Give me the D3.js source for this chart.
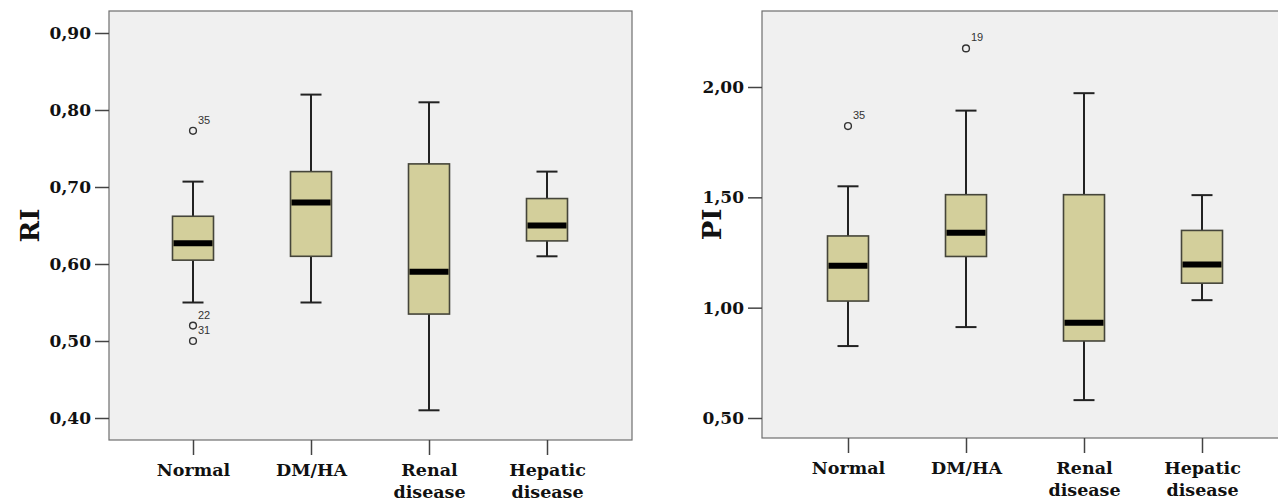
<!DOCTYPE html>
<html>
<head>
<meta charset="utf-8">
<script src="https://cdn.jsdelivr.net/npm/d3@7"></script>
<style>
  body { margin: 0; background: #fff; }
</style>
</head>
<body>
<div id="main"></div>
<script>
// categories and values
var categories = ["Normal", "DM/HA", "Renal disease", "Hepatic disease"];

var riTicks  = [0.40, 0.50, 0.60, 0.70, 0.80, 0.90];
var riMin    = [0.550, 0.550, 0.410, 0.610];
var riQ1     = [0.605, 0.610, 0.535, 0.630];
var riMedian = [0.627, 0.680, 0.590, 0.650];
var riQ3     = [0.662, 0.720, 0.730, 0.685];
var riMax    = [0.707, 0.820, 0.810, 0.720];
var riOutliers = [
  { cat: "Normal", value: 0.773, id: "35" },
  { cat: "Normal", value: 0.520, id: "22" },
  { cat: "Normal", value: 0.500, id: "31" }
];

var piTicks  = [0.50, 1.00, 1.50, 2.00];
var piMin    = [0.826, 0.912, 0.581, 1.034];
var piQ1     = [1.030, 1.232, 0.849, 1.111];
var piMedian = [1.190, 1.340, 0.932, 1.196];
var piQ3     = [1.325, 1.512, 1.512, 1.350];
var piMax    = [1.550, 1.893, 1.972, 1.510];
var piOutliers = [
  { cat: "Normal", value: 1.823, id: "35" },
  { cat: "DM/HA", value: 2.175, id: "19" }
];

var svg = d3.select("#main").append("svg")
    .attr("width", 1278)
    .attr("height", 501);

var serif = "'DejaVu Serif', serif";
var fmt = function(d) { return d3.format(".2f")(d).replace(".", ","); };

function drawPanel(p) {
  var g = svg.append("g");

  // plot background + frame
  g.append("rect")
      .attr("x", p.left).attr("y", p.top)
      .attr("width", p.right - p.left).attr("height", p.bottom - p.top)
      .attr("fill", "#f0f0f0")
      .attr("stroke", "#6e6e6e")
      .attr("stroke-width", 1.2);

  var x = d3.scalePoint().domain(categories).range(p.xRange);
  var y = d3.scaleLinear().domain(p.yDomain).range(p.yRange);

  // y axis
  var yAxis = g.append("g")
      .attr("transform", "translate(" + p.left + ",0)")
      .call(d3.axisLeft(y).tickValues(p.ticks).tickFormat(fmt).tickSize(14).tickPadding(4));
  yAxis.select(".domain").remove();
  yAxis.selectAll(".tick line").attr("stroke", "#444").attr("stroke-width", 1.5);
  yAxis.selectAll(".tick text")
      .style("font-family", serif).style("font-weight", "bold")
      .style("font-size", "17px").attr("fill", "#111");

  // x axis
  var xAxis = g.append("g")
      .attr("transform", "translate(0," + p.bottom + ")")
      .call(d3.axisBottom(x).tickSize(15).tickPadding(9));
  xAxis.select(".domain").remove();
  xAxis.selectAll(".tick line").attr("stroke", "#444").attr("stroke-width", 1.5);
  xAxis.selectAll(".tick text").each(function(d) {
    var t = d3.select(this).text(null)
        .style("font-family", serif).style("font-weight", "bold")
        .style("font-size", "17.5px").attr("fill", "#111");
    d.split(" ").forEach(function(w, i) {
      t.append("tspan").attr("x", 0).attr("dy", i === 0 ? "0.71em" : "1.25em").text(w);
    });
  });

  // axis title
  g.append("text")
      .attr("transform", "translate(" + p.titleX + "," + ((p.top + p.bottom) / 2) + ") rotate(-90)")
      .attr("text-anchor", "middle")
      .attr("dy", "0.35em")
      .style("font-family", serif).style("font-weight", "bold")
      .style("font-size", "26px").attr("fill", "#111")
      .text(p.title);

  var boxW = 41, capW = 21;
  var boxes = g.selectAll(".box").data(categories).enter().append("g").attr("class", "box");

  // whiskers
  boxes.append("line")
      .attr("x1", function(d) { return x(d); }).attr("x2", function(d) { return x(d); })
      .attr("y1", function(d, i) { return y(p.max[i]); })
      .attr("y2", function(d, i) { return y(p.min[i]); })
      .attr("stroke", "#222").attr("stroke-width", 2);
  boxes.append("line")
      .attr("x1", function(d) { return x(d) - capW / 2; }).attr("x2", function(d) { return x(d) + capW / 2; })
      .attr("y1", function(d, i) { return y(p.max[i]); }).attr("y2", function(d, i) { return y(p.max[i]); })
      .attr("stroke", "#222").attr("stroke-width", 2);
  boxes.append("line")
      .attr("x1", function(d) { return x(d) - capW / 2; }).attr("x2", function(d) { return x(d) + capW / 2; })
      .attr("y1", function(d, i) { return y(p.min[i]); }).attr("y2", function(d, i) { return y(p.min[i]); })
      .attr("stroke", "#222").attr("stroke-width", 2);

  // IQR box
  boxes.append("rect")
      .attr("x", function(d) { return x(d) - boxW / 2; })
      .attr("y", function(d, i) { return y(p.q3[i]); })
      .attr("width", boxW)
      .attr("height", function(d, i) { return y(p.q1[i]) - y(p.q3[i]); })
      .attr("fill", "#d3cf9b")
      .attr("stroke", "#45453a").attr("stroke-width", 1.6);

  // median
  boxes.append("line")
      .attr("x1", function(d) { return x(d) - boxW / 2 + 1; }).attr("x2", function(d) { return x(d) + boxW / 2 - 1; })
      .attr("y1", function(d, i) { return y(p.median[i]); }).attr("y2", function(d, i) { return y(p.median[i]); })
      .attr("stroke", "#000").attr("stroke-width", 6);

  // outliers
  var out = g.selectAll(".outlier").data(p.outliers).enter().append("g");
  out.append("circle")
      .attr("cx", function(d) { return x(d.cat); })
      .attr("cy", function(d) { return y(d.value); })
      .attr("r", 3.4)
      .attr("fill", "none").attr("stroke", "#333").attr("stroke-width", 1.4);
  out.append("text")
      .attr("x", function(d) { return x(d.cat) + 5; })
      .attr("y", function(d) { return y(d.value) - 7; })
      .style("font-family", "'Liberation Sans', Arial, sans-serif")
      .style("font-size", "11px").attr("fill", "#333")
      .text(function(d) { return d.id; });
}

drawPanel({
  left: 109, right: 632, top: 11, bottom: 440,
  xRange: [193, 547], yDomain: [0.4, 0.9], yRange: [418, 33],
  ticks: riTicks, title: "RI", titleX: 30,
  min: riMin, q1: riQ1, median: riMedian, q3: riQ3, max: riMax, outliers: riOutliers
});

drawPanel({
  left: 762, right: 1288, top: 11, bottom: 438,
  xRange: [848, 1202], yDomain: [0.5, 2.0], yRange: [418, 87],
  ticks: piTicks, title: "PI", titleX: 712,
  min: piMin, q1: piQ1, median: piMedian, q3: piQ3, max: piMax, outliers: piOutliers
});
</script>
</body>
</html>
